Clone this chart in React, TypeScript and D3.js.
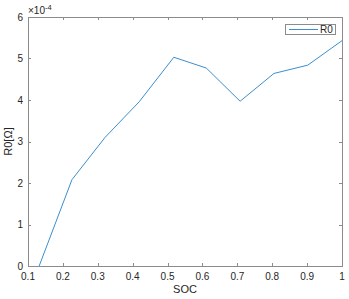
import { FC, useRef, useEffect } from 'react'
import * as d3 from 'd3'

const socValues = [0.132, 0.226, 0.321, 0.419, 0.518, 0.611, 0.708, 0.805, 0.902, 1.0]
const r0Values = [0, 2.08, 3.1, 3.96, 5.03, 4.77, 3.97, 4.64, 4.84, 5.43]
const xTicks = [0.1, 0.2, 0.3, 0.4, 0.5, 0.6, 0.7, 0.8, 0.9, 1]
const yTicks = [0, 1, 2, 3, 4, 5, 6]
const seriesName = 'R0'

const App: FC = () => {
  const svgRef = useRef<SVGSVGElement>(null)

  useEffect(() => {
    if (!svgRef.current) return
    const svg = d3.select(svgRef.current)
    svg.selectAll('*').remove()

    const width = 349
    const height = 299
    const margin = { top: 17, right: 7, bottom: 33, left: 28 }
    const x = d3.scaleLinear().domain([0.1, 1]).range([margin.left, width - margin.right])
    const y = d3.scaleLinear().domain([0, 6]).range([height - margin.bottom, margin.top])

    const axisColor = '#8c8c8c'
    const textColor = '#262626'
    const lineColor = '#3b8fcf'
    const font = '"Liberation Sans", Arial, sans-serif'

    svg.attr('width', width).attr('height', height)
    svg.append('rect').attr('width', width).attr('height', height).attr('fill', '#fff')

    const x0 = x.range()[0], x1 = x.range()[1]
    const y0 = y.range()[0], y1 = y.range()[1]

    // box
    svg.append('rect')
      .attr('x', x0).attr('y', y1)
      .attr('width', x1 - x0).attr('height', y0 - y1)
      .attr('fill', 'none').attr('stroke', axisColor).attr('stroke-width', 1)
      .attr('shape-rendering', 'crispEdges')

    const tickLen = 3
    xTicks.forEach(t => {
      const px = Math.round(x(t)) + 0.5
      svg.append('line').attr('x1', px).attr('x2', px).attr('y1', y0).attr('y2', y0 - tickLen)
        .attr('stroke', axisColor)
      svg.append('line').attr('x1', px).attr('x2', px).attr('y1', y1).attr('y2', y1 + tickLen)
        .attr('stroke', axisColor)
      svg.append('text')
        .attr('x', x(t)).attr('y', y0 + 14)
        .attr('text-anchor', 'middle')
        .attr('font-family', font).attr('font-size', '10px').attr('fill', textColor)
        .text(String(t))
    })

    yTicks.forEach(t => {
      const py = Math.round(y(t)) + 0.5
      svg.append('line').attr('x1', x0).attr('x2', x0 + tickLen).attr('y1', py).attr('y2', py)
        .attr('stroke', axisColor)
      svg.append('line').attr('x1', x1).attr('x2', x1 - tickLen).attr('y1', py).attr('y2', py)
        .attr('stroke', axisColor)
      svg.append('text')
        .attr('x', x0 - 5).attr('y', y(t)).attr('dy', '0.35em')
        .attr('text-anchor', 'end')
        .attr('font-family', font).attr('font-size', '10px').attr('fill', textColor)
        .text(String(t))
    })

    // exponent label
    const expo = svg.append('text')
      .attr('x', x0).attr('y', y1 - 3)
      .attr('font-family', font).attr('font-size', '10px').attr('fill', textColor)
    expo.append('tspan').text('×10')
    expo.append('tspan').attr('dy', -4).attr('font-size', '7.5px').text('-4')

    // axis labels
    svg.append('text')
      .attr('x', (x0 + x1) / 2).attr('y', height - 6)
      .attr('text-anchor', 'middle')
      .attr('font-family', font).attr('font-size', '11px').attr('fill', textColor)
      .text('SOC')
    svg.append('text')
      .attr('transform', `translate(12,${(y0 + y1) / 2}) rotate(-90)`)
      .attr('text-anchor', 'middle')
      .attr('font-family', font).attr('font-size', '11px').attr('fill', textColor)
      .text('R0[Ω]')

    // line
    const data = socValues.map((s, i) => ({ s, r: r0Values[i] }))
    const line = d3.line<{ s: number; r: number }>().x(d => x(d.s)).y(d => y(d.r))
    svg.append('path')
      .datum(data)
      .attr('d', line)
      .attr('fill', 'none')
      .attr('stroke', lineColor)
      .attr('stroke-width', 1)

    // legend
    const lg = svg.append('g')
    lg.append('rect')
      .attr('x', 285.5).attr('y', 24.5).attr('width', 50).attr('height', 10)
      .attr('fill', '#fff').attr('stroke', axisColor)
    lg.append('line')
      .attr('x1', 289).attr('x2', 318).attr('y1', 29.5).attr('y2', 29.5)
      .attr('stroke', lineColor).attr('stroke-width', 1)
    lg.append('text')
      .attr('x', 320).attr('y', 29.5).attr('dy', '0.35em')
      .attr('font-family', font).attr('font-size', '10px').attr('fill', textColor)
      .text(seriesName)
  }, [])

  return (
    <div style={{ position: 'absolute', left: 0, top: 0 }}>
      <svg ref={svgRef} style={{ display: 'block' }} />
    </div>
  )
}

export default App
